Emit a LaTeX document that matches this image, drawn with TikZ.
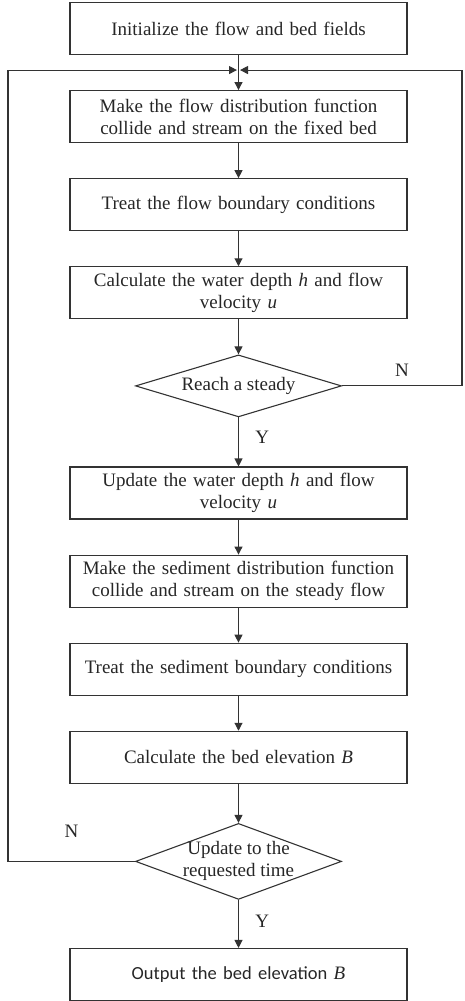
\documentclass[tikz,border=0pt]{standalone}
\usepackage{fontspec}
\setmainfont{Liberation Serif}
\newfontfamily\outfont{Carlito}
\usetikzlibrary{arrows.meta,positioning,shapes.geometric}

\begin{document}
\begin{tikzpicture}[
    x=1pt, y=1pt,
    font=\fontsize{19}{22}\selectfont,
    text=black!85,
    node distance=35pt,
    box/.style={
      draw=black!80,
      line width=1.1pt,
      align=center,
      text width=321pt,
      inner xsep=8pt,
      inner ysep=0pt,
      minimum height=52pt
    },
    decision/.style={
      draw=black!80,
      line width=1.1pt,
      shape=diamond,
      align=center,
      inner sep=-4pt,
      minimum width=206pt
    },
    flow/.style={-{Triangle[length=8pt,width=8pt]}, draw=black!80, line width=1.1pt}
  ]
    \useasboundingbox (0,0) rectangle (465,-1001);
    \node[box] (init) at (238.5,-28.5) {Initialize the flow and bed fields};
    \node[box, below=of init] (collide) {
      Make the flow distribution function\\
      collide and stream on the fixed bed
    };
    \node[box, below=of collide] (fbound) {Treat the flow boundary conditions};
    \node[box, below=of fbound] (calc) {
      Calculate the water depth \textit{h} and flow\\
      velocity \textit{u}
    };
    \node[decision, aspect=3.3, minimum height=62pt, below=of calc] (steady) {Reach a steady};
    \node[box, below=49pt of steady] (update) {
      Update the water depth \textit{h} and flow\\
      velocity \textit{u}
    };
    \node[box, below=of update] (sedcol) {
      Make the sediment distribution function\\
      collide and stream on the steady flow
    };
    \node[box, below=of sedcol] (sbound) {Treat the sediment boundary conditions};
    \node[box, below=of sbound] (bedel) {Calculate the bed elevation \textit{B}};
    \node[decision, aspect=2.7, minimum height=76pt, below=39pt of bedel] (reqtime) {
      Update to the\\
      requested time
    };
    \node[box, below=48pt of reqtime] (output) {{\outfont\fontsize{18.5}{22}\selectfont Output the bed elevation} \textit{B}};
    % loop back points
    \coordinate (merge) at ([yshift=-15pt]init.south);
    \coordinate (loopL) at (8,0);
    \coordinate (loopR) at (462,0);
    \draw[flow] (init) -- (collide);
    \draw[flow] (collide) -- (fbound);
    \draw[flow] (fbound) -- (calc);
    \draw[flow] (calc) -- (steady);
    \draw[flow] (steady) -- node[pos=0.4, right=13pt] {Y} (update);
    \draw[flow] (update) -- (sedcol);
    \draw[flow] (sedcol) -- (sbound);
    \draw[flow] (sbound) -- (bedel);
    \draw[flow] (bedel) -- (reqtime);
    \draw[flow] (reqtime) -- node[pos=0.45, right=13pt] {Y} (output);
    \draw[flow] (steady.east) -- node[above=6pt] {N} (loopR |- steady.east)
      -- (loopR |- merge) -- ([xshift=1.5pt]merge);
    \draw[flow] (reqtime.west) -- node[above=20pt] {N} (loopL |- reqtime.west)
      -- (loopL |- merge) -- ([xshift=-1.5pt]merge);
  \end{tikzpicture}
\end{document}
